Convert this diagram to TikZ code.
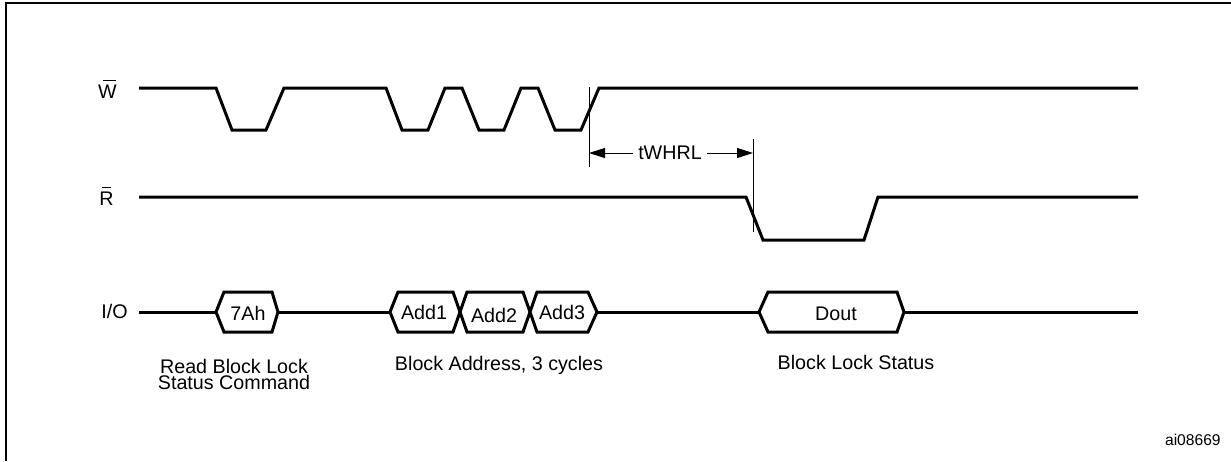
\documentclass[tikz,border=0pt]{standalone}
\usepackage{fontspec}
\setmainfont{Liberation Sans}
\usetikzlibrary{arrows.meta}

\begin{document}
\begin{tikzpicture}
[ x=0.5pt, y=-0.5pt, font=\fontsize{9.85}{8}\selectfont
, signal/.style={line width=1.5pt}
, marker/.style={line width=0.5pt}
, dim/.style={line width=0.5pt, -{Triangle[length=8pt, width=5pt]}}
, siglabel/.style={anchor=base east, inner sep=0pt}
, busval/.style={anchor=base, inner sep=0pt}
, note/.style={anchor=base, inner sep=0pt, align=center}
]
\useasboundingbox (0,0) rectangle (1231,461);
\draw [line width=1pt] (6,461) -- (6,3) -- (1231,3);

% Signal names:
\node (wname) [siglabel] at (117,98) {\rlap{\kern2.5pt\rule[8.5pt]{6.5pt}{0.5pt}}W};
\node (rname) [siglabel] at (114,205) {\rlap{\kern1.5pt\rule[8.5pt]{4.5pt}{0.5pt}}R};
\node (ioname) [siglabel] at (128,318.5) {I/O};

% Waveforms:
\draw [signal] (139,88) -- (216,88) -- (232,130) -- (266,130) -- (284,88)
  -- (386,88) -- (402,130) -- (428,130) -- (445,88) -- (462,88) -- (479,130)
  -- (504,130) -- (521,88) -- (538,88) -- (555,130) -- (581,130) -- (599,88)
  -- (1138,88);
\draw [signal] (139,197) -- (746,197) -- (763,240) -- (864,240) -- (878,197)
  -- (1138,197);
\draw [signal] (139,312) -- (216,312);
\draw [signal] (278,312) -- (390,312);
\draw [signal] (597,312) -- (759,312);
\draw [signal] (904,312) -- (1138,312);
\foreach \a/\b/\c/\d/\x/\y/\nm/\txt in
  {216/224/272/278/248/320/cmd/7Ah, 390/398/453/460/424/319/adda/Add1,
   460/467/523/530/494/322/addb/Add2, 530/537/588/597/562/319/addc/Add3,
   759/768/897/904/836/320/dout/Dout}
{
  \draw [signal] (\a,312) -- (\b,292) -- (\c,292) -- (\d,312) -- (\c,332)
    -- (\b,332) -- cycle;
  \node (\nm) [busval] at (\x,\y) {\txt};
}

% tWHRL:
\coordinate (wtop) at (589,87);
\coordinate (wbot) at (589,167);
\coordinate (rtop) at (753,139);
\coordinate (rbot) at (753,232);
\coordinate (wmark) at (589,153);
\coordinate (rmark) at (753,153);
\draw [marker] (wtop) -- (wbot);
\draw [marker] (rtop) -- (rbot);
\node (twhrl) [inner sep=2.5pt] at (670,153) {tWHRL};
\draw [dim] (twhrl) -- (wmark);
\draw [dim] (twhrl) -- (rmark);

% Notes:
\node (cmdnote) [note] at (234,389) {Read Block Lock\\Status Command};
\node (addrnote) [note] at (499,370) {Block Address, 3 cycles};
\node (statnote) [note] at (856,369) {Block Lock Status};
\node (fignum) [anchor=base east, inner sep=0pt, font=\fontsize{7.8}{9}\selectfont]
  at (1221,445) {ai08669};
\end{tikzpicture}
\end{document}
